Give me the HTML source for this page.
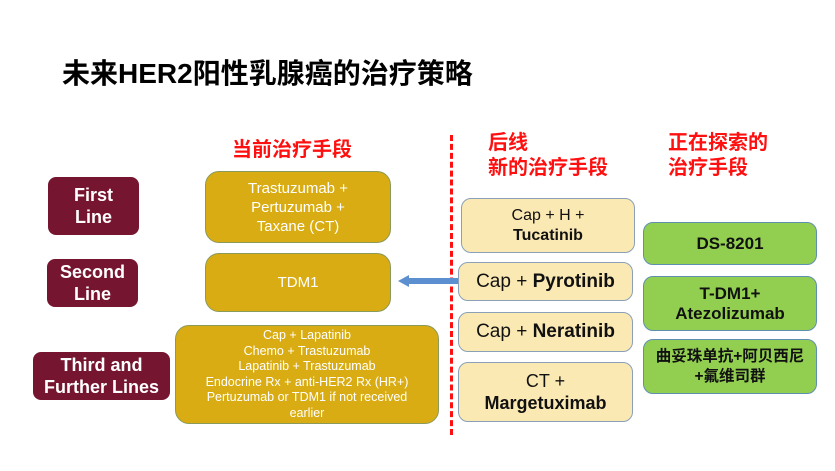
<!DOCTYPE html><html><head><meta charset="utf-8"><style>
body{margin:0;width:835px;height:471px;background:#fff;position:relative;overflow:hidden;font-family:"Liberation Sans","Noto Sans CJK SC",sans-serif}
.b{position:absolute;box-sizing:border-box;display:flex;align-items:center;justify-content:center;text-align:center}
.m{background:#761530;color:#fff;font-weight:bold;font-size:18px;line-height:22px;border-radius:8px}
.g{background:#d8ac12;border:1.5px solid #8a9a5b;color:#fff;border-radius:14px;font-size:15px;line-height:19px}
.y{background:#fbe9b4;border:1.5px solid #8aa0b8;color:#111;border-radius:10px;font-size:17px;line-height:20px}
.gr{background:#92cf50;border:1.5px solid #5f8fb0;color:#111;border-radius:10px;font-weight:bold;font-size:17px;line-height:20px}
.r{position:absolute;color:#ff1010;font-weight:bold;font-size:20px;line-height:25px}
</style></head><body>
<div style="position:absolute;left:62px;top:52px;font-size:28px;font-weight:bold;color:#000">未来HER2阳性乳腺癌的治疗策略</div>
<div class="r" style="left:232px;top:138px">当前治疗手段</div>
<div class="r" style="left:488px;top:131px">后线<br>新的治疗手段</div>
<div class="r" style="left:668px;top:131px">正在探索的<br>治疗手段</div>
<div class="b m" style="left:48px;top:177px;width:91px;height:58px"><span>First<br>Line</span></div>
<div class="b m" style="left:47px;top:259px;width:91px;height:48px"><span>Second<br>Line</span></div>
<div class="b m" style="left:33px;top:352px;width:137px;height:48px"><span>Third and<br>Further Lines</span></div>
<div class="b g" style="left:205px;top:171px;width:186px;height:72px"><span>Trastuzumab +<br>Pertuzumab +<br>Taxane (CT)</span></div>
<div class="b g" style="left:205px;top:253px;width:186px;height:59px"><span>TDM1</span></div>
<div class="b g" style="left:175px;top:325px;width:264px;height:99px;font-size:12.5px;line-height:15.5px"><span>Cap + Lapatinib<br>Chemo + Trastuzumab<br>Lapatinib + Trastuzumab<br>Endocrine Rx + anti-HER2 Rx (HR+)<br>Pertuzumab or TDM1 if not received<br>earlier</span></div>
<div style="position:absolute;left:450px;top:135px;height:300px;border-left:3px dashed #ff1010"></div>
<svg style="position:absolute;left:398px;top:274px" width="62" height="14"><rect x="10" y="4" width="52" height="6" fill="#5b8fd0"/><polygon points="0,7 11,1 11,13" fill="#5b8fd0"/></svg>
<div class="b y" style="left:461px;top:198px;width:174px;height:55px;font-size:16px"><span>Cap + H +<br><b>Tucatinib</b></span></div>
<div class="b y" style="left:458px;top:262px;width:175px;height:39px;font-size:19px"><span>Cap + <b>Pyrotinib</b></span></div>
<div class="b y" style="left:458px;top:312px;width:175px;height:40px;font-size:19px"><span>Cap + <b>Neratinib</b></span></div>
<div class="b y" style="left:458px;top:362px;width:175px;height:60px;font-size:18px;line-height:22px"><span>CT +<br><b>Margetuximab</b></span></div>
<div class="b gr" style="left:643px;top:222px;width:174px;height:43px"><span>DS-8201</span></div>
<div class="b gr" style="left:643px;top:276px;width:174px;height:55px"><span>T-DM1+<br>Atezolizumab</span></div>
<div class="b gr" style="left:643px;top:339px;width:174px;height:55px;font-size:15.5px"><span>曲妥珠单抗+阿贝西尼<br>+氟维司群</span></div>
</body></html>
